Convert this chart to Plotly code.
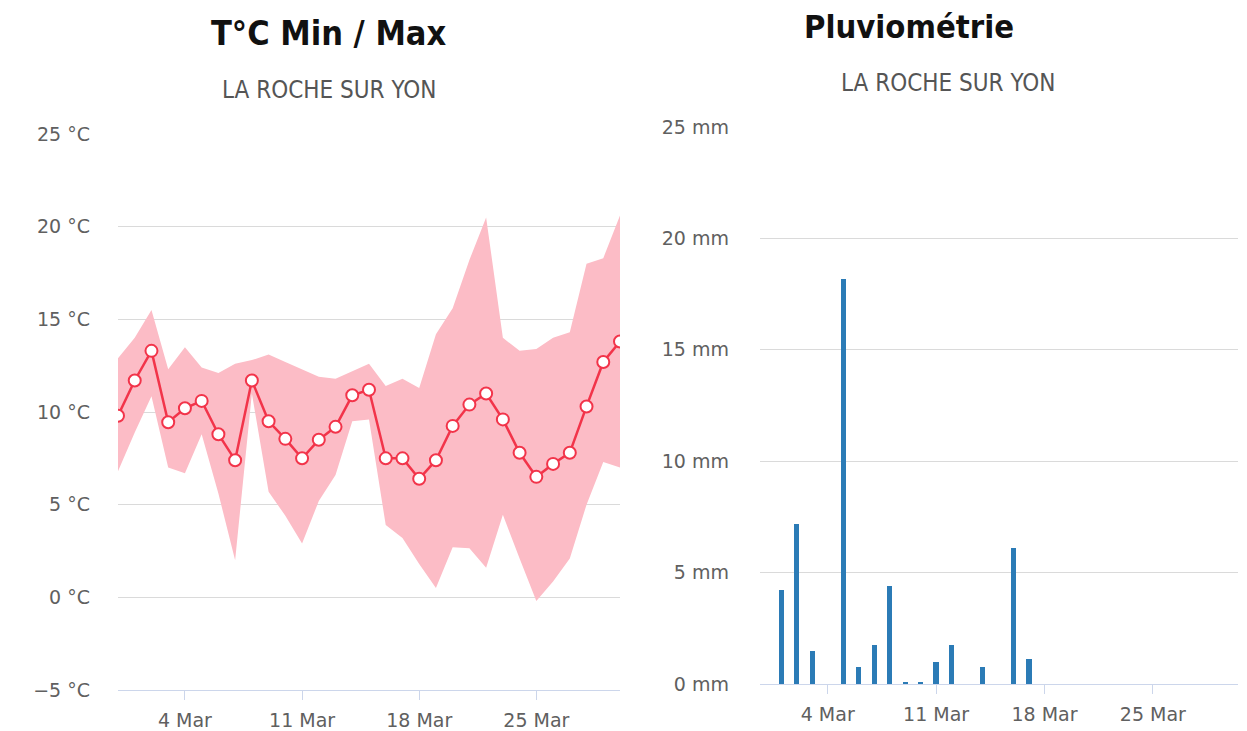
import plotly.graph_objects as go
import pandas as pd

# ---------------- data ----------------
dates = pd.date_range("2024-02-29", "2024-03-30", freq="D")
t_avg = [9.8, 11.7, 13.3, 9.45, 10.2, 10.6, 8.8, 7.4, 11.7, 9.5, 8.55, 7.5, 8.5, 9.2, 10.9, 11.2,
         7.5, 7.5, 6.4, 7.4, 9.25, 10.4, 11.0, 9.6, 7.8, 6.5, 7.2, 7.8, 10.3, 12.7, 13.8]
t_max = [12.9, 14.0, 15.5, 12.3, 13.5, 12.4, 12.1, 12.6, 12.8, 13.1, 12.7, 12.3, 11.9, 11.8, 12.2, 12.6,
         11.4, 11.8, 11.3, 14.2, 15.6, 18.2, 20.5, 14.0, 13.3, 13.4, 14.0, 14.3, 18.0, 18.3, 20.6]
t_min = [6.8, 8.9, 10.85, 7.0, 6.7, 8.8, 5.6, 2.0, 11.0, 5.7, 4.4, 2.9, 5.2, 6.6, 9.5, 9.6,
         3.9, 3.2, 1.8, 0.5, 2.7, 2.65, 1.6, 4.45, 2.1, -0.2, 0.85, 2.1, 5.0, 7.3, 7.0]
rain = [0, 4.2, 7.2, 1.5, 0, 18.2, 0.75, 1.75, 4.4, 0.1, 0.1, 1.0, 1.75, 0, 0.75, 0,
        6.1, 1.1, 0, 0, 0, 0, 0, 0, 0, 0, 0, 0, 0, 0, 0]
x_tick_dates = ["2024-03-04", "2024-03-11", "2024-03-18", "2024-03-25"]
x_tick_text = ["4 Mar", "11 Mar", "18 Mar", "25 Mar"]
t_ticks = [-5, 0, 5, 10, 15, 20, 25]
t_tick_text = ["\u22125 \u00b0C", "0 \u00b0C", "5 \u00b0C", "10 \u00b0C", "15 \u00b0C", "20 \u00b0C", "25 \u00b0C"]
r_ticks = [0, 5, 10, 15, 20, 25]
r_tick_text = ["0 mm", "5 mm", "10 mm", "15 mm", "20 mm", "25 mm"]
title_left = "T\u00b0C Min / Max"
title_right = "Pluviom\u00e9trie"
subtitle = "LA ROCHE SUR YON"

# ---------------- layout helpers ----------------
W, H = 1247, 731
def px(x):
    return x / W
def py(y):
    return 1 - y / H

TFONT = "DejaVu Sans Condensed, DejaVu Sans, sans-serif"
LFONT = "DejaVu Sans, Verdana, sans-serif"
RED = "#f2344a"
BAND = "#fcbcc6"
BLUE = "#2b7bb6"
GRID = "#dadada"
AXIS = "#ccd6eb"
LABEL = "#606060"

fig = go.Figure()

fig.add_trace(go.Scatter(x=dates, y=t_min, mode="lines", line=dict(width=0, color=BAND),
                         hoverinfo="skip", showlegend=False, xaxis="x", yaxis="y"))
fig.add_trace(go.Scatter(x=dates, y=t_max, mode="lines", line=dict(width=0, color=BAND),
                         fill="tonexty", fillcolor=BAND, showlegend=False, xaxis="x", yaxis="y"))
fig.add_trace(go.Scatter(x=dates, y=t_avg, mode="lines+markers",
                         line=dict(color=RED, width=2.5),
                         marker=dict(size=12, color="white", line=dict(color=RED, width=2)),
                         showlegend=False, xaxis="x", yaxis="y"))

fig.add_trace(go.Bar(x=dates, y=rain, marker=dict(color=BLUE, line=dict(width=0)),
                     width=0.34 * 86400000, showlegend=False, xaxis="x2", yaxis="y2"))

common_x = dict(type="date", showgrid=False, showline=True, linecolor=AXIS, linewidth=1,
                ticks="outside", ticklen=9, tickcolor=AXIS, tickwidth=1,
                tickvals=x_tick_dates, ticktext=x_tick_text, ticklabelstandoff=4,
                tickfont=dict(family=LFONT, size=19, color=LABEL), zeroline=False,
                automargin=False, fixedrange=True)

fig.update_layout(
    width=W, height=H,
    margin=dict(l=0, r=0, t=0, b=0),
    paper_bgcolor="white", plot_bgcolor="white",
    showlegend=False,
    xaxis=dict(common_x, domain=[px(118), px(620)], range=["2024-02-29", "2024-03-30"],
               anchor="y"),
    yaxis=dict(domain=[py(690), py(134)], range=[-5, 25], tickvals=t_ticks, ticktext=t_tick_text,
               showgrid=True, gridcolor=GRID, gridwidth=1, zeroline=False, showline=False,
               ticks="", ticklabelstandoff=27, tickfont=dict(family=LFONT, size=19, color=LABEL),
               automargin=False, anchor="x"),
    xaxis2=dict(common_x, domain=[px(760), px(1238)],
                range=["2024-02-28 15:00", "2024-03-30 12:00"], anchor="y2"),
    yaxis2=dict(domain=[py(684), py(127)], range=[0, 25], tickvals=r_ticks, ticktext=r_tick_text,
                showgrid=True, gridcolor=GRID, gridwidth=1, zeroline=False, showline=False,
                ticks="", ticklabelstandoff=30, tickfont=dict(family=LFONT, size=19, color=LABEL),
                automargin=False, anchor="x2"),
    bargap=0,
)

fig.add_annotation(text="<b>" + title_left + "</b>", x=px(328), y=py(33), xref="paper", yref="paper",
                   showarrow=False, xanchor="center", yanchor="middle",
                   font=dict(family=TFONT, size=34, color="#111111"))
fig.add_annotation(text="<b>" + title_right + "</b>", x=px(909), y=py(27), xref="paper", yref="paper",
                   showarrow=False, xanchor="center", yanchor="middle",
                   font=dict(family=TFONT, size=32.5, color="#111111"))
fig.add_annotation(text=subtitle, x=px(329), y=py(90), xref="paper", yref="paper",
                   showarrow=False, xanchor="center", yanchor="middle",
                   font=dict(family=TFONT, size=24, color="#555555"))
fig.add_annotation(text=subtitle, x=px(948), y=py(83), xref="paper", yref="paper",
                   showarrow=False, xanchor="center", yanchor="middle",
                   font=dict(family=TFONT, size=24, color="#555555"))

# remove the default page margin so the 1247x731 figure fills the window exactly
fig.write_html("out.html", config={"displayModeBar": False},
               post_script="document.body.style.margin='0';document.body.style.overflow='hidden';")
